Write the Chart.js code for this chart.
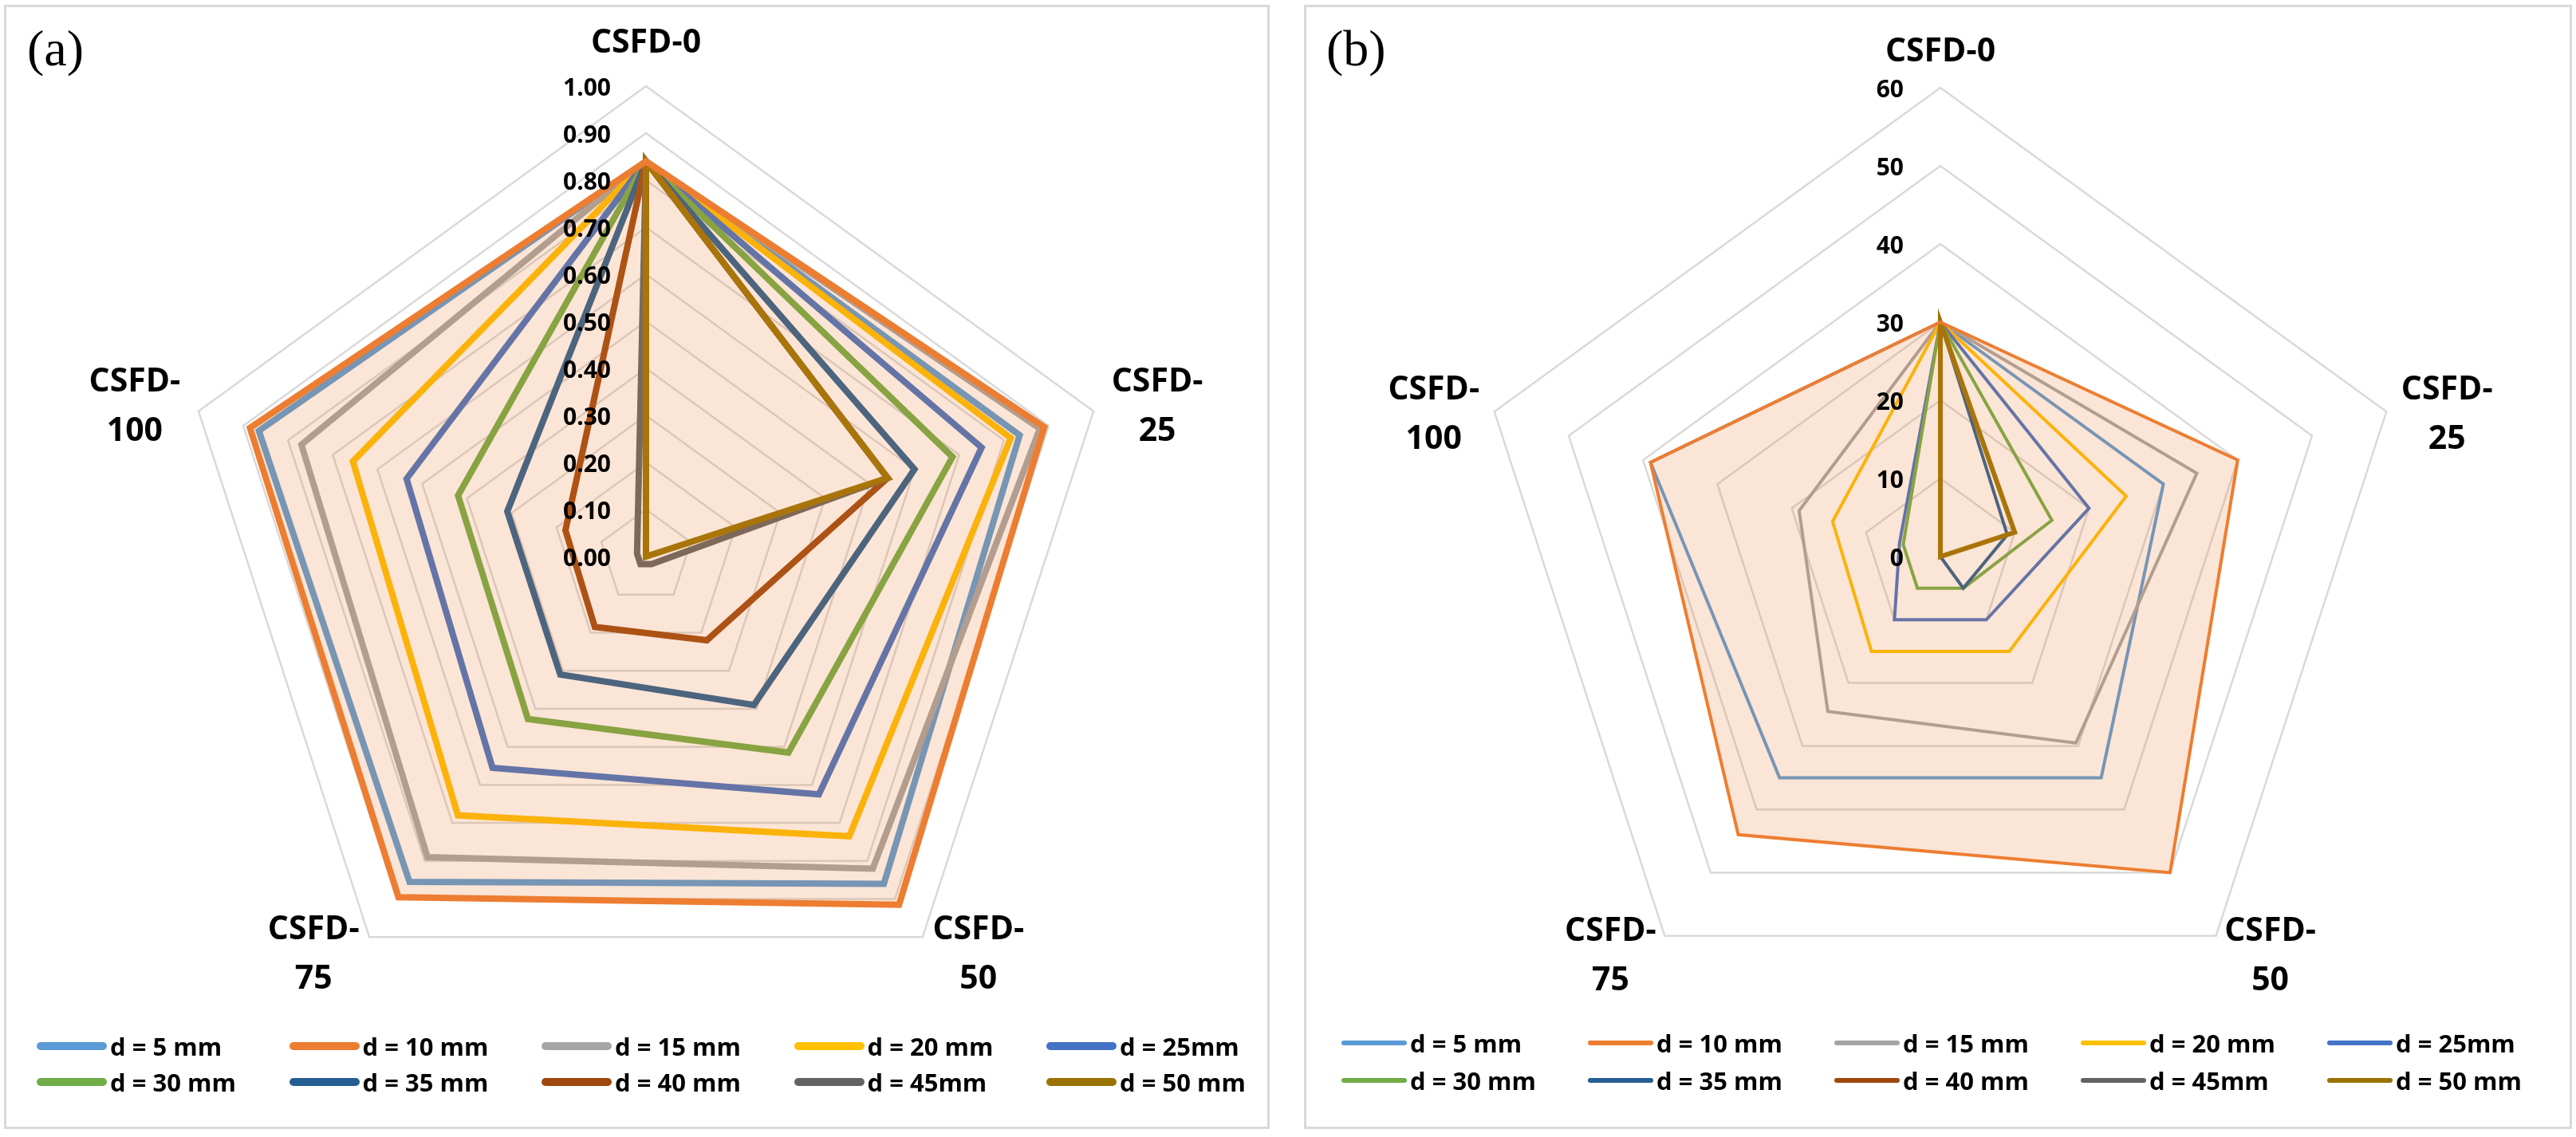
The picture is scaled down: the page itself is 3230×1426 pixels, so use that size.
<!DOCTYPE html>
<html>
<head>
<meta charset="utf-8">
<script src="https://cdn.jsdelivr.net/npm/chart.js@4.4.1/dist/chart.umd.min.js"></script>
<style>
  html, body { margin: 0; padding: 0; background: #fff; }
  body { width: 3230px; height: 1426px; position: relative; overflow: hidden; font-family: 'Open Sans', sans-serif; }
  .panel { position: absolute; top: 6px; height: 1410px; border: 3px solid #d9d9d9; box-sizing: border-box; }
  .box { position: absolute; top: 6px; height: 1410px; }
  .tag { position: absolute; top: 29px; font-family: 'Liberation Serif', serif; font-size: 64px; line-height: 64px; color: #000; }
  .leg { position: absolute; display: flex; align-items: center; height: 40px; font-size: 31px; font-weight: bold; color: #000; white-space: nowrap; }
  .leg span.sw { display: inline-block; margin-right: 4px; }
</style>
</head>
<body>
<div class="panel" style="left:5px; width:1587px;"></div>
<div class="panel" style="left:1635px; width:1590px;"></div>
<div class="box" style="left:5px; width:1587px;"><canvas id="chartA"></canvas></div>
<div class="box" style="left:1635px; width:1590px;"><canvas id="chartB"></canvas></div>
<div class="tag" style="left:34px;">(a)</div>
<div class="tag" style="left:1663px;">(b)</div>
<div id="legendA"></div>
<div id="legendB"></div>

<script>
// categories and series
const CATEGORIES = ['CSFD-0', 'CSFD-25', 'CSFD-50', 'CSFD-75', 'CSFD-100'];
const SERIES = ['d = 5 mm', 'd = 10 mm', 'd = 15 mm', 'd = 20 mm', 'd = 25mm',
                'd = 30 mm', 'd = 35 mm', 'd = 40 mm', 'd = 45mm', 'd = 50 mm'];

// panel (a), 0.00 - 1.00
const A_D5  = [0.84, 0.835, 0.86, 0.855, 0.865];
const A_D10 = [0.84, 0.89, 0.915, 0.895, 0.885];
const A_D15 = [0.84, 0.88, 0.82, 0.79, 0.77];
const A_D20 = [0.84, 0.815, 0.735, 0.68, 0.655];
const A_D25 = [0.84, 0.75, 0.625, 0.555, 0.535];
const A_D30 = [0.84, 0.685, 0.515, 0.427, 0.42];
const A_D35 = [0.84, 0.60, 0.39, 0.31, 0.31];
const A_D40 = [0.84, 0.54, 0.22, 0.185, 0.18];
const A_D45 = [0.84, 0.54, 0.02, 0.02, 0.02];
const A_D50 = [0.84, 0.54, 0, 0, 0];

// panel (b), 0 - 60
const B_D5  = [30, 30, 35, 35, 39];
const B_D10 = [30, 40, 50, 44, 39];
const B_D15 = [30, 34.5, 29.5, 24.5, 19];
const B_D20 = [30, 25, 15, 15, 14.5];
const B_D25 = [30, 20, 10, 10, 5.5];
const B_D30 = [30, 15, 5, 5, 5];
const B_D35 = [30, 9, 5, 0, 0];
const B_D40 = [30, 10, 0, 0, 0];
const B_D45 = [30, 10, 0, 0, 0];
const B_D50 = [30, 10, 0, 0, 0];

const A_SERIES = [A_D5, A_D10, A_D15, A_D20, A_D25, A_D30, A_D35, A_D40, A_D45, A_D50];
const B_SERIES = [B_D5, B_D10, B_D15, B_D20, B_D25, B_D30, B_D35, B_D40, B_D45, B_D50];

const COLORS = ['#5B9BD5', '#ED7D31', '#A5A5A5', '#FFC000', '#4472C4',
                '#70AD47', '#255E91', '#9E480E', '#636363', '#997300'];
const FILLED = 1; // d = 10 mm carries the shaded area

// tick labels left of the vertical axis
const tickLabels = {
  id: 'tickLabels',
  afterDatasetsDraw(chart, args, o) {
    const r = chart.scales.r;
    const ctx = chart.ctx;
    ctx.save();
    ctx.font = o.font;
    ctx.fillStyle = '#000';
    ctx.textAlign = 'right';
    ctx.textBaseline = 'middle';
    r.ticks.forEach(t => {
      const y = r.yCenter - r.getDistanceFromCenterForValue(t.value) + o.dy;
      ctx.fillText(t.label, r.xCenter - o.gap, y);
    });
    ctx.restore();
  }
};

// category labels, side ones wrapped after the hyphen
const axisLabels = {
  id: 'axisLabels',
  afterDatasetsDraw(chart, args, o) {
    const r = chart.scales.r;
    const ctx = chart.ctx;
    ctx.save();
    ctx.font = o.font;
    ctx.fillStyle = '#000';
    ctx.textAlign = 'center';
    ctx.textBaseline = 'alphabetic';
    chart.data.labels.forEach((lab, i) => {
      const p = r.getPointPosition(i, r.drawingArea);
      const ux = (p.x - r.xCenter) / r.drawingArea;
      const uy = (p.y - r.yCenter) / r.drawingArea;
      let x = p.x, y, lines;
      if (Math.abs(ux) < 0.1) {
        lines = [lab];
        y = p.y + o.topBase;
      } else {
        lines = lab.replace('-', '-\n').split('\n');
        if (uy < 0) { x += Math.sign(ux) * o.upDx; y = p.y + o.upBase; }
        else { x += Math.sign(ux) * o.lowDx; y = p.y + o.lowBase; }
      }
      lines.forEach((s, k) => ctx.fillText(s, x, y + k * o.lineGap));
    });
    ctx.restore();
  }
};

function makeRadar(id, series, cfg) {
  const datasets = series.map((vals, i) => ({
    label: SERIES[i],
    data: vals,
    borderColor: COLORS[i],
    borderWidth: cfg.widths ? cfg.widths[i] : cfg.lineWidth,
    backgroundColor: i === FILLED ? 'rgba(237, 125, 49, 0.2)' : 'transparent',
    fill: i === FILLED ? 'origin' : false,
    pointRadius: 0,
    pointHoverRadius: 0,
    tension: 0,
    order: i === FILLED ? 0 : 20 - i
  }));

  return new Chart(document.getElementById(id), {
    type: 'radar',
    data: { labels: CATEGORIES, datasets: datasets },
    options: {
      responsive: true,
      maintainAspectRatio: false,
      devicePixelRatio: 1,
      animation: false,
      layout: { padding: cfg.padding },
      plugins: {
        legend: { display: false },
        tooltip: { enabled: false },
        tickLabels: cfg.ticks,
        axisLabels: cfg.labels
      },
      scales: {
        r: {
          min: 0,
          max: cfg.max,
          startAngle: 0,
          ticks: { display: false, stepSize: cfg.step, callback: cfg.fmt },
          grid: { color: '#d9d9d9', lineWidth: 2.5 },
          angleLines: { display: false },
          pointLabels: { display: false }
        }
      }
    },
    plugins: [tickLabels, axisLabels]
  });
}

function buildLegend(elId, cfg) {
  const host = document.getElementById(elId);
  SERIES.forEach((name, i) => {
    const col = i % 5, row = Math.floor(i / 5);
    const item = document.createElement('div');
    item.className = 'leg';
    item.style.left = (cfg.x0 + col * cfg.dx) + 'px';
    item.style.top = (cfg.rows[row] - 20) + 'px';
    const sw = document.createElement('span');
    sw.className = 'sw';
    sw.style.width = cfg.swW + 'px';
    sw.style.height = cfg.swH + 'px';
    sw.style.borderRadius = (cfg.swH / 2) + 'px';
    sw.style.background = COLORS[i];
    const tx = document.createElement('span');
    tx.textContent = name;
    item.appendChild(sw);
    item.appendChild(tx);
    host.appendChild(item);
  });
}

makeRadar('chartA', A_SERIES, {
  max: 1, step: 0.1, fmt: v => v.toFixed(2),
  lineWidth: 8,
  padding: { left: 215, top: 102, right: 192, bottom: 128 },
  ticks: { font: 'bold 30px "Open Sans"', gap: 44, dy: 3 },
  labels: { font: 'bold 41px "Open Sans"', topBase: -42, upDx: 80, upBase: -25,
            lowDx: 70, lowBase: 3, lineGap: 62 }
});

makeRadar('chartB', B_SERIES, {
  max: 60, step: 10, fmt: v => String(v),
  widths: [4, 4, 4, 4, 4, 4, 4, 4, 4, 6],
  padding: { left: 210, top: 104, right: 204, bottom: 130 },
  ticks: { font: 'bold 30px "Open Sans"', gap: 46, dy: 3 },
  labels: { font: 'bold 41px "Open Sans"', topBase: -33, upDx: 76, upBase: -15,
            lowDx: 68, lowBase: 6, lineGap: 62 }
});

buildLegend('legendA', { x0: 46, dx: 316.5, rows: [1312, 1357], swW: 88, swH: 10 });
buildLegend('legendB', { x0: 1682, dx: 309, rows: [1308, 1355], swW: 82, swH: 6 });
</script>
</body>
</html>
